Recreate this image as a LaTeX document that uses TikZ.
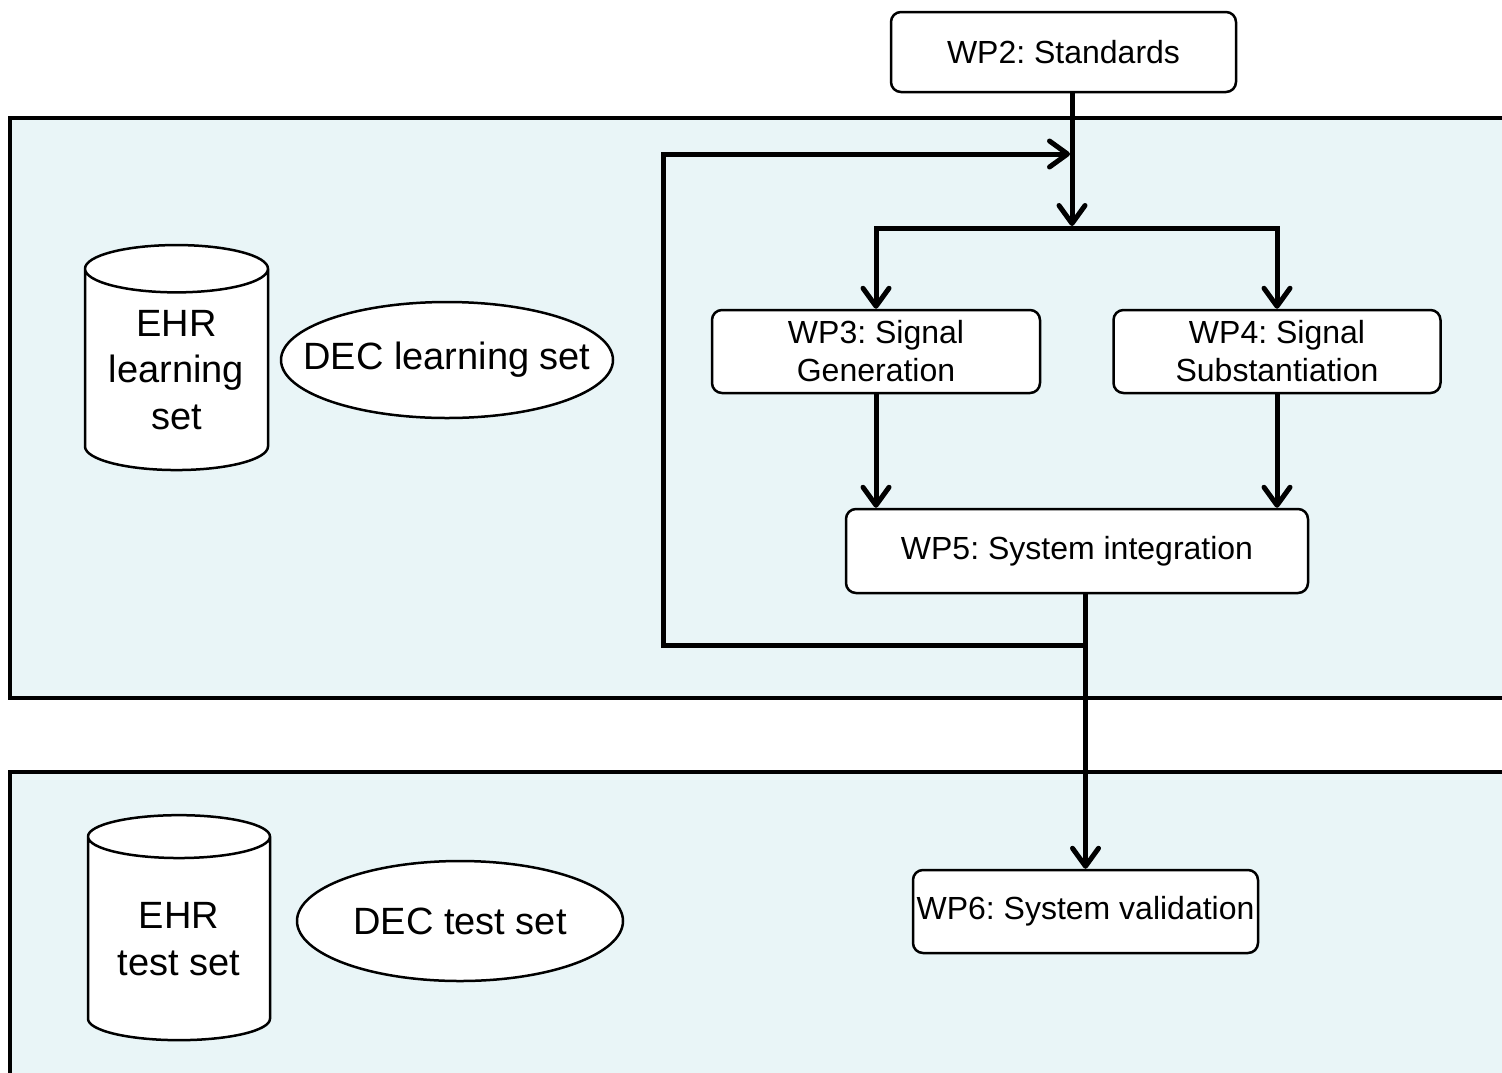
\documentclass[tikz,border=0pt]{standalone}
\usepackage{fontspec}
\setmainfont{Liberation Sans}
\usepackage{tikz}
\usetikzlibrary{shapes.geometric, positioning, arrows.meta}

\definecolor{panelfill}{RGB}{233,245,247}
\frenchspacing

\begin{document}
\begin{tikzpicture}[x=1pt, y=-1pt,
	wp/.style={draw, line width=2.5pt, rounded corners=10pt, fill=white, align=center,
		inner sep=0pt, font=\fontsize{32}{38}\selectfont},
	store/.style={draw, line width=2.5pt, fill=white, cylinder, shape border rotate=90,
		aspect=0.35, align=center, inner sep=0pt, font=\fontsize{38}{46.5}\selectfont},
	dec/.style={draw, line width=2.5pt, fill=white, ellipse, inner ysep=0pt, inner xsep=-30pt,
		font=\fontsize{38}{46}\selectfont},
	flow/.style={line width=5pt, -{Straight Barb[length=18pt, width=26pt, round]}},
	link/.style={line width=5pt}]
	\useasboundingbox (0,0) rectangle (1502,1072);
	\clip (0,0) rectangle (1502,1072);
	% the two data set panels
	\draw[line width=3.5pt, fill=panelfill] (10,118) rectangle (1540,698);
	\draw[line width=3.5pt, fill=panelfill] (10,772) rectangle (1540,1110);
	% work packages
	\node[wp, minimum width=345pt, minimum height=80pt] (wp2) at (1063.5,52) {WP2: Standards};
	\node[wp, minimum width=328pt, minimum height=83pt] (wp3) at (876,351.5) {WP3: Signal\\Generation};
	\node[wp, minimum width=327pt, minimum height=83pt, right=71pt of wp3] (wp4) {WP4: Signal\\Substantiation};
	\node[wp, minimum width=462pt, minimum height=84pt] (wp5) at (1077,551) {WP5: System integration};
	\node[wp, minimum width=345pt, minimum height=83pt] (wp6) at (1085.5,911.5) {WP6: System validation};
	% data sets
	\node[store, minimum width=183pt, minimum height=225pt] (ehrlearn) at (176.5,370) {EHR\\learning\\set};
	\node[dec, minimum width=332pt, minimum height=116pt] (declearn) at (447,360) {DEC learning set};
	\node[store, minimum width=182pt, minimum height=225pt] (ehrtest) at (179,939) {EHR\\test set};
	\node[dec, minimum width=326pt, minimum height=120pt] (dectest) at (460,921) {DEC test set};
	% junctions
	\coordinate (split) at (1072,228);
	\coordinate (merge) at (1072,154);
	\coordinate (back) at (wp6.north |- 0,645);
	% connectors
	\draw[flow, shorten >=2pt] (wp2.south -| split) -- (split);
	\draw[flow] (split) -| (wp3.north);
	\draw[flow] (split) -| (wp4.north);
	\draw[flow] (wp3.south) -- (wp5.north -| wp3.south);
	\draw[flow] (wp4.south) -- (wp5.north -| wp4.south);
	\draw[flow] (wp5.south -| wp6.north) -- (wp6.north);
	\draw[flow, shorten >=2pt] (back) -- (663,645) |- (merge);
\end{tikzpicture}
\end{document}
